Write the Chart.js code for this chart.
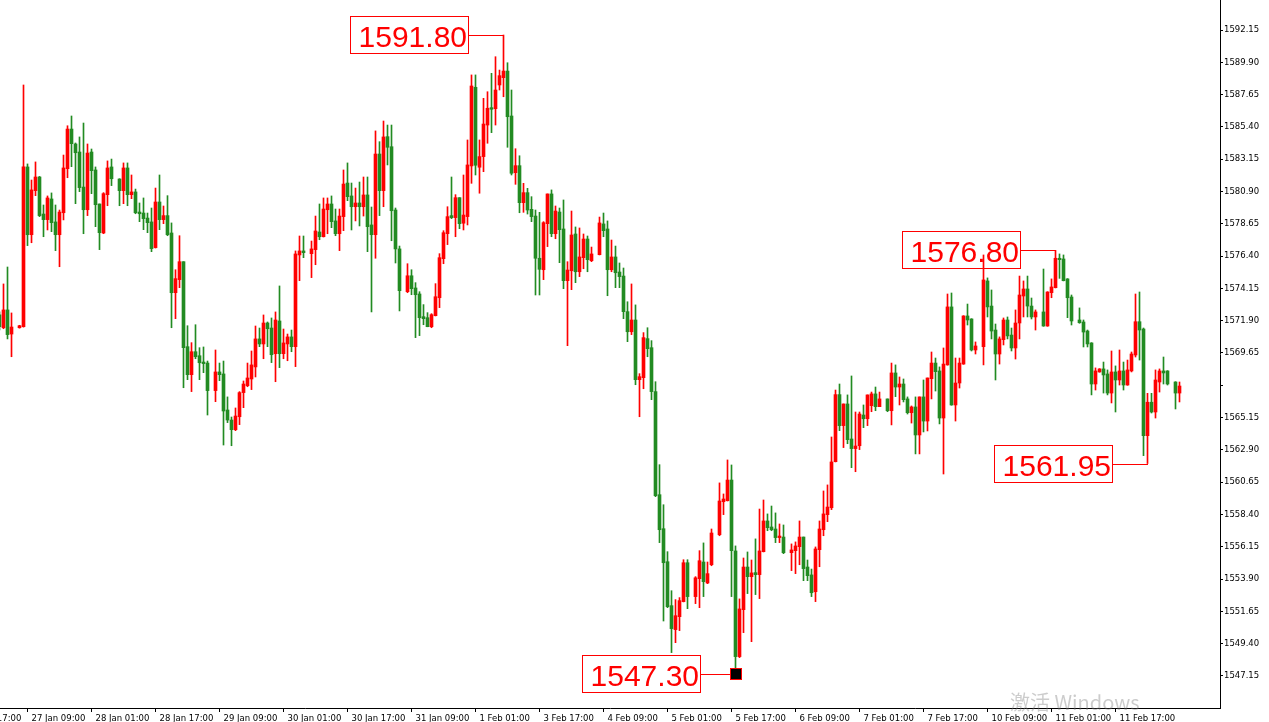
<!DOCTYPE html>
<html><head><meta charset="utf-8">
<script src="https://cdn.jsdelivr.net/npm/chart.js@4.4.1/dist/chart.umd.min.js"></script>
<style>html,body{margin:0;padding:0;background:#fff;overflow:hidden}canvas{display:block}</style>
</head><body>
<canvas id="c" width="1269" height="722"></canvas>
<script>
// Hourly candles, index = bar slot (null = empty slot)
const O = [1572.30,1571.41,1572.65,1570.97,null,1571.41,1571.48,1582.61,1577.89,1580.96,
1581.91,1579.33,1578.94,1580.38,1578.78,1577.89,1579.42,1582.49,1585.25,1584.21,
1583.65,1581.21,1579.63,1583.65,1582.40,1580.03,1578.01,1580.68,1582.61,null,
1581.77,1580.96,1582.54,1580.68,1580.87,1579.47,1579.40,1579.05,1578.78,1576.99,
1580.17,1578.94,1579.22,1578.01,1573.85,1574.76,1576.01,1570.09,1568.14,1569.74,
1569.46,1569.02,1568.95,null,1567.03,1568.33,1568.19,1565.68,1564.98,1564.31,
1565.21,1566.89,1567.37,1567.84,1568.68,1570.63,1570.28,1571.74,1571.39,1569.60,
1571.88,1569.60,1570.28,1570.77,1570.09,1576.48,1576.76,null,1576.57,1576.85,
1578.08,1577.75,1579.63,1580.03,1578.85,1577.96,1579.15,1581.49,1580.59,1579.84,
1580.10,1579.84,1580.66,1578.57,1577.89,1583.51,1580.96,1584.72,1584.02,1579.61,
1576.90,null,1573.92,1575.03,1574.18,1573.76,1572.18,1572.11,1571.48,1572.25,
1573.50,1576.22,1577.96,1579.22,1579.08,1580.47,1578.69,1579.15,1582.68,1588.16,
1582.59,1583.33,1585.53,1586.74,1586.67,1588.32,1588.83,1589.29,1586.16,1582.21,
1582.70,1580.12,1580.82,1579.66,1579.19,1576.25,1575.45,1578.66,1580.73,1577.96,
1579.47,1578.29,1574.69,1575.38,1577.94,1575.31,1576.29,1577.59,1576.08,null,
1576.50,1578.64,1578.29,1575.45,1576.34,1575.29,1575.01,1572.53,1571.13,1571.95,
1567.79,1567.93,1570.65,1570.02,1566.96,1559.78,1557.41,1555.11,1552.05,1550.38,
1551.28,1552.33,1555.04,null,1552.68,1553.93,1555.09,1553.63,1554.90,null,
1556.99,1559.29,1559.36,1560.80,1555.86,1548.50,1551.77,1554.74,1554.07,1554.35,
1554.21,1555.81,1557.95,1557.53,1557.39,1556.79,1556.83,null,1555.74,1555.88,
1556.16,1556.83,1554.74,1554.19,1553.02,1555.95,1557.34,1558.39,1558.87,1562.08,
1566.75,1564.59,1566.10,1563.66,1562.99,1563.19,1565.33,1565.07,1565.98,1566.80,
1565.91,null,1566.45,1565.63,1568.26,1567.28,1567.49,1566.45,1565.49,1565.89,
1563.94,1566.59,1564.91,1567.86,1568.95,1568.40,1565.12,1568.82,1572.86,1566.03,
1567.56,1568.88,1572.23,1572.02,1569.86,null,1570.09,1574.67,1572.92,1571.25,
1569.58,1570.58,1571.95,1570.90,1570.00,1571.74,1573.62,1574.11,1572.92,1572.16,
null,1572.51,1571.53,1573.85,1574.20,1576.25,1576.20,1574.81,1573.55,null,
1571.95,1571.81,1571.18,1570.35,1567.49,1568.33,1568.54,1568.19,1566.86,1568.33,
1567.77,1568.40,1567.42,1568.40,1569.51,1571.83,1571.32,1563.89,1566.22,1565.54,
1567.63,1568.40,1568.40,null,1567.63,1566.86];

const H = [1572.51,1574.46,1575.64,1572.44,null,1571.58,1588.32,1582.82,1581.70,1582.96,
1581.95,1579.96,1580.59,1580.80,1579.96,1579.61,1583.44,1585.48,1586.16,1584.28,
1584.70,1585.67,1584.21,1583.86,1582.61,1580.03,1580.82,1583.03,1583.16,null,
1581.79,1582.89,1582.89,1582.05,1581.07,1580.10,1580.45,1579.40,1579.75,1581.14,
1582.05,1579.89,1580.61,1578.71,1575.45,1577.82,1576.01,1571.55,1570.37,1571.62,
1570.02,1570.07,1569.09,null,1569.86,1568.95,1569.09,1566.59,1565.19,1565.82,
1566.96,1567.70,1568.95,1569.79,1571.53,1571.39,1572.30,1571.81,1572.09,1572.51,
1574.32,1571.32,1570.97,1571.25,1576.76,1577.80,1577.80,null,1577.45,1579.19,
1580.03,1580.45,1580.45,1580.59,1579.68,1579.68,1582.40,1582.89,1581.49,1581.14,
1581.56,1581.91,1581.91,1579.82,1585.12,1584.37,1585.81,1585.53,1585.53,1579.75,
1577.10,null,1575.87,1575.45,1574.55,1573.92,1573.02,1572.46,1572.39,1574.48,
1576.57,1578.17,1579.84,1581.91,1580.68,1580.47,1582.05,1584.49,1589.02,1589.02,
1584.49,1587.39,1587.85,1589.13,1590.29,1589.36,1591.80,1589.87,1587.97,1583.88,
1583.39,1581.47,1581.12,1580.54,1579.61,1579.45,1578.80,1580.73,1581.01,1579.89,
1579.75,1580.31,1576.01,1579.54,1578.43,1578.36,1577.94,1577.80,1577.03,null,
1579.12,1579.40,1578.85,1577.52,1577.10,1575.92,1575.57,1573.22,1574.46,1573.00,
1568.21,1571.07,1571.41,1570.51,1567.65,1561.87,1559.08,1555.81,1553.09,1552.47,
1552.61,1555.25,1555.25,null,1554.07,1555.88,1556.42,1555.09,1557.39,null,
1560.60,1559.83,1562.20,1561.85,1556.21,1552.52,1555.37,1555.79,1555.23,1556.70,
1558.78,1559.41,1558.44,1558.99,1558.51,1557.74,1557.67,null,1556.35,1556.49,
1557.95,1556.83,1555.23,1554.60,1556.14,1557.95,1560.04,1560.46,1563.80,1567.07,
1567.49,1566.10,1566.73,1568.05,1565.54,1565.54,1566.03,1566.73,1566.93,1567.28,
1566.93,null,1566.45,1568.95,1568.82,1567.98,1567.84,1566.59,1565.96,1566.59,
1566.59,1567.77,1567.91,1569.72,1569.30,1568.68,1570.00,1573.76,1573.83,1569.30,
1569.30,1572.25,1573.06,1572.04,1570.42,null,1576.48,1574.88,1574.04,1571.67,
1570.77,1572.09,1572.16,1571.39,1572.65,1575.01,1574.67,1575.01,1573.48,1572.65,
null,1575.50,1573.92,1574.81,1576.80,1576.55,1576.48,1574.83,1573.69,null,
1572.79,1571.95,1571.25,1570.37,1568.61,1568.56,1569.02,1568.47,1569.79,1568.75,
1569.86,1569.02,1569.16,1569.72,1573.76,1573.90,1571.39,1566.84,1566.84,1568.47,
1568.54,1569.37,1568.42,null,1567.65,1567.63];

const L = [1571.25,1571.34,1570.63,1569.39,null,1571.38,1571.45,1577.13,1577.33,1580.61,
1579.15,1577.75,1578.22,1578.10,1576.78,1575.66,1578.92,1581.86,1582.63,1580.05,
1580.89,1577.96,1579.22,1580.75,1578.45,1576.85,1577.96,1579.91,1581.31,null,
1579.91,1580.05,1579.91,1580.40,1579.35,1578.80,1578.24,1578.03,1576.71,1576.96,
1578.24,1578.66,1577.82,1571.41,1572.04,1574.20,1567.23,1567.79,1566.96,1569.25,
1567.79,1568.28,1565.33,null,1566.26,1567.72,1563.24,1564.80,1563.19,1564.24,
1564.66,1565.84,1567.30,1567.10,1567.98,1570.09,1569.25,1570.09,1568.98,1567.65,
1568.63,1569.25,1569.11,1569.74,1568.70,1574.69,1576.29,null,1574.90,1575.80,
1577.54,1577.73,1577.96,1578.38,1577.82,1576.78,1578.17,1580.26,1578.22,1578.85,
1578.50,1579.19,1576.71,1572.51,1576.25,1579.22,1579.84,1582.75,1577.47,1575.92,
1572.58,null,1573.85,1573.71,1570.72,1570.86,1571.62,1571.48,1571.41,1572.23,
1572.81,1575.87,1577.20,1579.01,1577.75,1578.31,1578.22,1578.57,1581.47,1582.05,
1580.78,1582.28,1584.26,1585.00,1585.53,1587.97,1587.50,1583.98,1582.05,1581.40,
1579.42,1579.45,1579.33,1578.80,1573.69,1573.69,1574.76,1577.06,1577.75,1577.61,
1575.94,1574.13,1570.16,1574.06,1574.55,1574.97,1575.52,1575.31,1576.01,null,
1576.48,1577.75,1573.64,1575.31,1574.20,1574.20,1572.04,1570.44,1570.93,1567.44,
1565.21,1567.16,1569.39,1566.40,1559.64,1556.44,1550.98,1551.91,1548.78,1549.47,
1550.31,1552.31,1551.84,null,1552.19,1551.91,1552.68,1553.58,1554.83,null,
1556.92,1558.39,1559.34,1552.68,1547.30,1548.43,1550.17,1552.89,1549.54,1552.82,
1552.54,1555.79,1557.27,1557.27,1556.44,1556.44,1555.67,null,1554.49,1554.28,
1554.90,1553.79,1553.79,1552.68,1552.33,1554.76,1556.92,1557.90,1558.74,1562.06,
1564.24,1563.06,1563.33,1561.66,1561.38,1562.92,1564.45,1564.59,1565.56,1565.63,
1565.91,null,1565.56,1564.64,1566.61,1566.03,1566.24,1565.40,1564.77,1562.62,
1562.62,1564.15,1564.22,1566.45,1567.00,1564.71,1561.22,1568.80,1566.01,1564.91,
1567.21,1568.86,1571.60,1569.79,1569.58,null,1568.82,1572.16,1570.63,1567.77,
1568.88,1570.21,1570.63,1569.79,1569.23,1570.63,1572.16,1572.16,1572.02,1571.25,
null,1571.51,1571.51,1573.50,1574.18,1574.85,1574.67,1572.11,1571.60,null,
1571.72,1570.07,1570.07,1566.73,1567.07,1568.31,1566.86,1566.73,1566.17,1565.54,
1567.42,1567.07,1567.40,1568.33,1569.37,1569.16,1562.50,1561.95,1565.47,1565.12,
1566.93,1567.49,1567.42,null,1565.75,1566.24];

const C = [1571.48,1572.65,1570.93,1571.46,null,1571.55,1582.61,1577.89,1581.01,1581.91,
1579.22,1578.94,1580.45,1578.73,1577.89,1579.47,1582.54,1585.25,1584.23,1583.60,
1581.17,1579.63,1583.58,1582.35,1579.98,1578.03,1580.75,1582.54,1581.79,null,
1580.96,1582.54,1580.68,1580.87,1579.42,1579.35,1579.01,1578.73,1576.92,1580.17,
1578.94,1579.22,1577.89,1573.85,1574.83,1576.01,1570.02,1568.14,1569.74,1569.39,
1568.97,1568.91,1567.03,null,1568.33,1568.14,1565.61,1564.98,1564.31,1565.26,
1566.89,1567.49,1567.91,1568.82,1570.63,1570.28,1571.74,1571.34,1569.53,1571.95,
1569.60,1570.35,1570.77,1570.09,1576.55,1576.76,1576.64,null,1576.90,1578.15,
1577.75,1579.68,1580.03,1578.80,1577.96,1579.19,1581.42,1580.54,1579.84,1580.10,
1579.84,1580.66,1578.45,1577.89,1583.51,1580.96,1584.70,1583.98,1579.56,1576.90,
1573.99,null,1575.03,1574.13,1573.71,1572.11,1572.04,1571.48,1572.32,1573.57,
1576.29,1578.03,1579.15,1579.08,1580.47,1578.66,1579.26,1582.75,1588.25,1582.73,
1583.33,1585.60,1586.70,1586.63,1587.97,1588.97,1589.29,1586.11,1582.17,1582.70,
1580.12,1580.82,1579.61,1579.15,1576.25,1575.48,1578.73,1580.73,1577.96,1579.54,
1578.24,1574.69,1575.43,1577.87,1575.31,1576.34,1577.59,1576.15,1576.55,null,
1578.71,1578.17,1575.45,1576.34,1575.24,1574.97,1572.53,1571.13,1571.95,1567.79,
1568.00,1570.72,1569.95,1566.96,1559.71,1557.34,1555.04,1551.98,1550.45,1551.35,
1552.40,1555.04,1552.68,null,1553.99,1555.18,1553.72,1554.28,1557.11,null,
1559.34,1559.48,1560.80,1555.88,1548.50,1551.82,1554.74,1554.07,1554.33,1554.21,
1555.86,1557.95,1557.48,1557.34,1556.79,1556.90,1555.74,null,1555.93,1556.21,
1556.83,1554.63,1554.14,1552.95,1556.00,1557.39,1558.44,1558.92,1562.06,1566.75,
1564.59,1566.10,1563.61,1562.99,1563.17,1565.40,1565.07,1566.73,1566.80,1565.91,
1566.45,null,1565.63,1568.26,1567.28,1567.49,1566.40,1565.49,1565.89,1563.94,
1566.59,1564.91,1567.91,1568.95,1568.35,1565.12,1568.88,1572.86,1566.03,1567.56,
1568.95,1572.23,1571.95,1569.86,1570.14,null,1574.74,1572.86,1571.18,1569.58,
1570.63,1571.95,1570.84,1570.00,1571.74,1573.69,1574.11,1572.92,1572.16,1572.51,
null,1571.53,1573.90,1574.25,1576.25,1576.15,1574.69,1573.50,1571.88,null,
1571.76,1571.11,1570.28,1567.49,1568.40,1568.54,1568.12,1566.86,1568.33,1567.77,
1568.40,1567.42,1568.47,1569.58,1571.83,1571.25,1563.89,1566.22,1565.54,1567.77,
1568.40,1568.26,1567.49,null,1566.86,1567.35];

// time axis labels and the bar slots they sit on
const tickIdx = [-9,7,23,39,55,71,87,103,119,135,151,167,183,199,215,231,247,263,279];
const tickLabels = ['24 Jan 17:00','27 Jan 09:00','28 Jan 01:00','28 Jan 17:00','29 Jan 09:00','30 Jan 01:00',
 '30 Jan 17:00','31 Jan 09:00','1 Feb 01:00','3 Feb 17:00','4 Feb 09:00','5 Feb 01:00','5 Feb 17:00',
 '6 Feb 09:00','7 Feb 01:00','7 Feb 17:00','10 Feb 09:00','11 Feb 01:00','11 Feb 17:00'];
const yTicks = [1547.15,1549.40,1551.65,1553.90,1556.15,1558.40,1560.65,1562.90,1565.15,1567.40,1569.65,
 1571.90,1574.15,1576.40,1578.65,1580.90,1583.15,1585.40,1587.65,1589.90,1592.15,1594.40];
const yHiddenLabel = 1567.40;
const notes = [
  {bar:126, price:1591.80},
  {bar:264, price:1576.80},
  {bar:287, price:1561.95},
  {bar:184, price:1547.30, marker:true}
];
const UP = '#FF0000', DOWN = '#228B22';

const slots = [];
O.forEach((o, i) => { if (o !== null) slots.push(i); });
const colors = slots.map(i => C[i] > O[i] ? UP : DOWN);
const wickData = slots.map(i => ({x: i, y: [L[i], H[i]]}));
const bodyData = slots.map(i => ({x: i, y: [O[i], C[i]]}));

const axisFont = {family: '"DejaVu Sans", sans-serif', size: 8.5};

const notesPlugin = {
  id: 'notes',
  beforeDatasetsDraw(chart) {
    const {ctx, scales: {x, y}} = chart;
    ctx.save();
    notes.forEach(n => {
      const wx = Math.floor(x.getPixelForValue(n.bar));
      const ay = Math.round(y.getPixelForValue(n.price));
      const right = wx - 34, left = right - 119, top = ay - 19;
      ctx.fillStyle = '#fff';
      ctx.fillRect(left, top, 119, 38);
      ctx.strokeStyle = '#FF0000'; ctx.lineWidth = 1;
      ctx.strokeRect(left + 0.5, top + 0.5, 118, 37);
      ctx.beginPath();
      ctx.moveTo(right, ay + 0.5);
      ctx.lineTo(n.marker ? wx - 5 : wx + 1, ay + 0.5);
      ctx.stroke();
      ctx.fillStyle = '#FF0000';
      ctx.font = '30px "Liberation Sans", Arial, sans-serif';
      ctx.textAlign = 'right'; ctx.textBaseline = 'alphabetic';
      ctx.fillText(n.price.toFixed(2), right - 2, ay + 12);
    });
    ctx.restore();
  },
  afterDatasetsDraw(chart) {
    const {ctx, scales: {x, y}} = chart;
    ctx.save();
    notes.filter(n => n.marker).forEach(n => {
      const wx = Math.floor(x.getPixelForValue(n.bar));
      const ay = Math.round(y.getPixelForValue(n.price));
      ctx.fillStyle = '#000';
      ctx.fillRect(wx - 5, ay - 6, 12, 12);
      ctx.strokeStyle = '#FF0000'; ctx.lineWidth = 1;
      ctx.strokeRect(wx - 4.5, ay - 5.5, 11, 11);
    });
    ctx.restore();
  },
  afterDraw(chart) {
    const ctx = chart.ctx;
    ctx.save();
    ctx.font = '20px "Noto Sans CJK SC", "Noto Sans", sans-serif';
    ctx.fillStyle = 'rgba(120,120,120,0.38)';
    ctx.textAlign = 'left'; ctx.textBaseline = 'alphabetic';
    ctx.fillText('激活 Windows', 1010, 710);
    ctx.restore();
  }
};

new Chart(document.getElementById('c'), {
  type: 'bar',
  data: {
    datasets: [
      {data: wickData, backgroundColor: colors, barThickness: 1, grouped: false, borderWidth: 0, minBarLength: 1, order: 2},
      {data: bodyData, backgroundColor: colors, barThickness: 3, grouped: false, borderWidth: 0, minBarLength: 1, order: 1}
    ]
  },
  options: {
    responsive: false, animation: false, devicePixelRatio: 1, events: [],
    layout: {padding: 0},
    plugins: {legend: {display: false}, tooltip: {enabled: false}},
    scales: {
      x: {
        type: 'linear', min: 0.125, max: 305.125, offset: false,
        grid: {display: true, drawOnChartArea: false, drawTicks: true, tickLength: 4, color: '#000', offset: false},
        border: {display: true, color: '#000', width: 1},
        ticks: {autoSkip: false, maxRotation: 0, minRotation: 0, align: 'start', labelOffset: 4, padding: 2,
          color: '#000', font: axisFont,
          callback: v => { const k = tickIdx.indexOf(v); return k < 0 ? '' : tickLabels[k]; }},
        afterBuildTicks: s => { s.ticks = tickIdx.map(v => ({value: v})); },
        afterFit: s => { s.height = 14; s.paddingLeft = 0; s.paddingRight = 0; }
      },
      y: {
        position: 'right', min: 1544.92, max: 1594.24, beginAtZero: false,
        grid: {display: true, drawOnChartArea: false, drawTicks: true, tickLength: 3, color: '#000'},
        border: {display: true, color: '#000', width: 1},
        ticks: {autoSkip: false, padding: 1, color: '#000', font: axisFont,
          callback: v => Math.abs(v - yHiddenLabel) < 0.001 ? '' : v.toFixed(2)},
        afterBuildTicks: s => { s.ticks = yTicks.map(v => ({value: v})); },
        afterFit: s => { s.width = 49; s.paddingTop = 0; s.paddingBottom = 0; }
      }
    }
  },
  plugins: [notesPlugin]
});
</script>
</body></html>
